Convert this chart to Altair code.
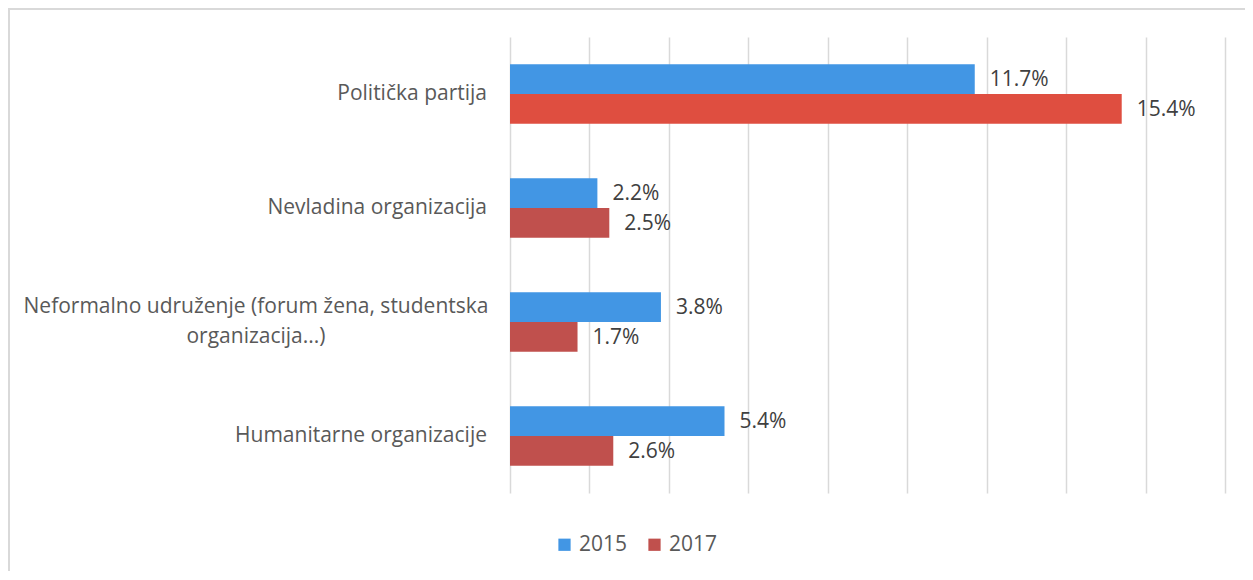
import altair as alt
import pandas as pd

categories = ["Politička partija", "Nevladina organizacija",
              "Neformalno udruženje (forum žena, studentska organizacija...)",
              "Humanitarne organizacije"]
cat_lines = [["Politička partija"], ["Nevladina organizacija"],
             ["Neformalno udruženje (forum žena, studentska", "organizacija...)"],
             ["Humanitarne organizacije"]]
years = ["2015", "2017"]
values_2015 = [11.7, 2.2, 3.8, 5.4]
values_2017 = [15.4, 2.5, 1.7, 2.6]

rows = []
for c, v in zip(categories, values_2015):
    rows.append({"cat": c, "year": "2015", "v": v, "lbl": f"{v:.1f}%"})
for c, v in zip(categories, values_2017):
    rows.append({"cat": c, "year": "2017", "v": v, "lbl": f"{v:.1f}%"})
df = pd.DataFrame(rows)

lab = pd.DataFrame({"cat": categories, "lines": cat_lines,
                    "multi": [len(l) > 1 for l in cat_lines]})

FONT = "Open Sans"
FS = 21
ycat = alt.Y("cat:N", sort=categories, title=None,
             scale=alt.Scale(paddingInner=0.48, paddingOuter=0.24),
             axis=None)
xq = alt.X("v:Q", title=None,
           scale=alt.Scale(domain=[0, 18], nice=False),
           axis=alt.Axis(values=list(range(0, 19, 2)), labels=False, ticks=False,
                         domain=False, grid=True, gridColor="#D9D9D9", gridWidth=1.5))

color = alt.condition(
    "datum.cat == 'Politička partija' && datum.year == '2017'",
    alt.value("#DF4E40"),
    alt.Color("year:N", scale=alt.Scale(domain=years, range=["#4296E4", "#C0504D"]),
              legend=alt.Legend(title=None, orient="none", direction="horizontal",
                                legendX=44, legendY=497, symbolType="square",
                                symbolSize=150, symbolStrokeWidth=0,
                                labelFont=FONT, labelFontSize=FS, labelColor="#595959",
                                columnPadding=16, labelOffset=4)))

base = alt.Chart(df)
bars = base.mark_bar(height=alt.RelativeBandSize(1)).encode(
    y=ycat, x=xq, yOffset=alt.YOffset("year:N", sort=years), color=color)
texts = base.mark_text(align="left", dx=15, dy=1, font=FONT, fontSize=FS, color="#404040").encode(
    y=ycat, x="v:Q", yOffset=alt.YOffset("year:N", sort=years), text="lbl:N")

single = alt.Chart(lab).transform_filter("!datum.multi").mark_text(
    align="right", baseline="middle", font=FONT, fontSize=FS, color="#595959").encode(
    y=ycat, x=alt.value(-23), text="lines")
multi = alt.Chart(lab).transform_filter("datum.multi").mark_text(
    align="center", baseline="middle", font=FONT, fontSize=FS, color="#595959",
    lineHeight=30, dy=-15).encode(
    y=ycat, x=alt.value(-254), text="lines")

border = alt.Chart(lab).mark_rect(fill=None, stroke="#D9D9D9", strokeWidth=2).encode(
    x=alt.value(-501), x2=alt.value(800), y=alt.value(-28), y2=alt.value(700))

chart = alt.layer(border, bars, texts, single, multi).properties(
    width=715, height=456,
    padding={"left": 502, "top": 29, "right": 20, "bottom": 78},
    autosize=alt.AutoSizeParams(type="none"),
).configure_view(stroke=None)

chart.save("out.html", embed_options={"renderer": "svg", "actions": False})
